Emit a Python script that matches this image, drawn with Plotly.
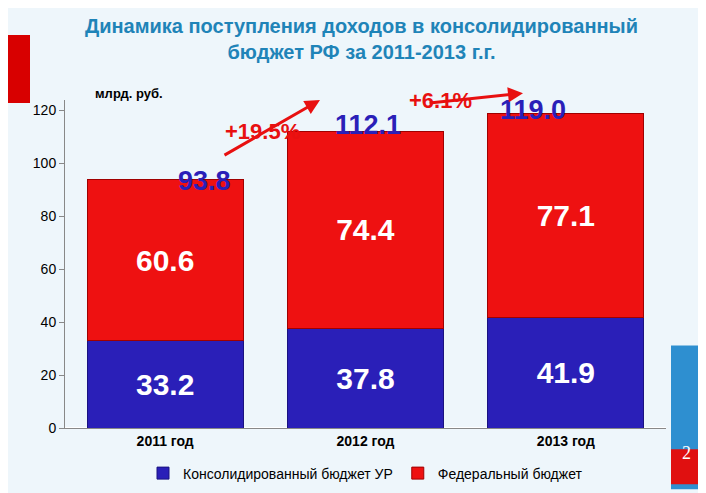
import plotly.graph_objects as go

years = ["2011 год", "2012 год", "2013 год"]
regional = [33.2, 37.8, 41.9]
federal = [60.6, 74.4, 77.1]
totals = [93.8, 112.1, 119.0]
growth = ["+19.5%", "+6.1%"]

L, R, T, B = 57, 48, 92, 63
W, H = 706, 493
def px(X): return (X - L) / (W - L - R)
def py(Y): return (H - B - Y) / (H - T - B)

fnt = "Liberation Sans"
fig = go.Figure()
fig.add_bar(x=years, y=regional, name="Консолидированный бюджет УР",
            marker=dict(color="#2a1fb8", line=dict(color="#1a1280", width=1)),
            texttemplate="<b>%{y:.1f}</b>", textposition="inside", insidetextanchor="middle",
            textfont=dict(color="white", size=30, family=fnt))
fig.add_bar(x=years, y=federal, name="Федеральный бюджет",
            marker=dict(color="#ee1111", line=dict(color="#a00000", width=1)),
            texttemplate="<b>%{y:.1f}</b>", textposition="inside", insidetextanchor="middle",
            textfont=dict(color="white", size=30, family=fnt))

ann = []
tot_pos = [(168, 158), (360, 100), (560, 85)]
for t, (X, Y) in zip(totals, tot_pos):
    ann.append(dict(x=px(X), y=py(Y), xref="paper", yref="paper", text=f"<b>{t:.1f}</b>",
                    showarrow=False, font=dict(size=27, color="#2a1fb8", family=fnt)))
ann += [
    dict(x=px(312), y=py(92), xref="paper", yref="paper", ax=-97, ay=56, text="",
         showarrow=True, arrowhead=2, arrowsize=1, arrowwidth=3, arrowcolor="#e81010"),
    dict(x=px(515), y=py(85), xref="paper", yref="paper", ax=-95, ay=10, text="",
         showarrow=True, arrowhead=2, arrowsize=1, arrowwidth=3, arrowcolor="#e81010"),
    dict(x=px(215), y=py(110), xref="paper", yref="paper", text=f"<b>{growth[0]}</b>", showarrow=False,
         font=dict(size=22, color="#e81010", family=fnt)),
    dict(x=px(432), y=py(78), xref="paper", yref="paper", text=f"<b>{growth[1]}</b>", showarrow=False,
         font=dict(size=22, color="#e81010", family=fnt)),
    dict(x=px(353), y=py(2), xref="paper", yref="paper", yanchor="top", showarrow=False,
         text="<b>Динамика поступления доходов в консолидированный<br>бюджет РФ за 2011-2013 г.г.</b>",
         font=dict(size=20, color="#1f84b8", family=fnt)),
    dict(x=px(85), y=py(75), xref="paper", yref="paper", showarrow=False,
         text="<b>млрд. руб.</b>", font=dict(size=13, color="black", family=fnt)),
    dict(x=px(685), y=py(468), xref="paper", yref="paper", text="2", showarrow=False,
         font=dict(size=18, color="white", family="Liberation Serif")),
]

fig.update_layout(
    width=W, height=H, barmode="stack", bargap=0.22,
    margin=dict(l=L, r=R, t=T, b=B),
    paper_bgcolor="#eef6fb", plot_bgcolor="rgba(0,0,0,0)",
    legend=dict(orientation="h", x=0.5, xanchor="center", y=-0.09, yanchor="top",
                font=dict(size=14, color="black", family=fnt), traceorder="normal"),
    annotations=ann,
    yaxis=dict(range=[0, 124], dtick=20, showgrid=False, showline=True, linecolor="#888",
               ticks="outside", tickcolor="#888", tickfont=dict(size=14, color="black", family=fnt)),
    xaxis=dict(showline=True, linecolor="#888", tickprefix="<b>", ticksuffix="</b>",
               tickfont=dict(size=14, color="black", family=fnt)),
    shapes=[
        dict(type="rect", xref="paper", yref="paper", x0=px(0), x1=px(22), y0=py(95), y1=py(25),
             fillcolor="#d80000", line=dict(width=0)),
        dict(type="rect", xref="paper", yref="paper", x0=px(663), x1=px(706), y0=py(493), y1=py(345),
             fillcolor="#2e8fd0", line=dict(width=0)),
        dict(type="rect", xref="paper", yref="paper", x0=px(663), x1=px(706), y0=py(488), y1=py(452),
             fillcolor="#e01010", line=dict(width=0)),
    ],
)
fig.write_html("out.html")
